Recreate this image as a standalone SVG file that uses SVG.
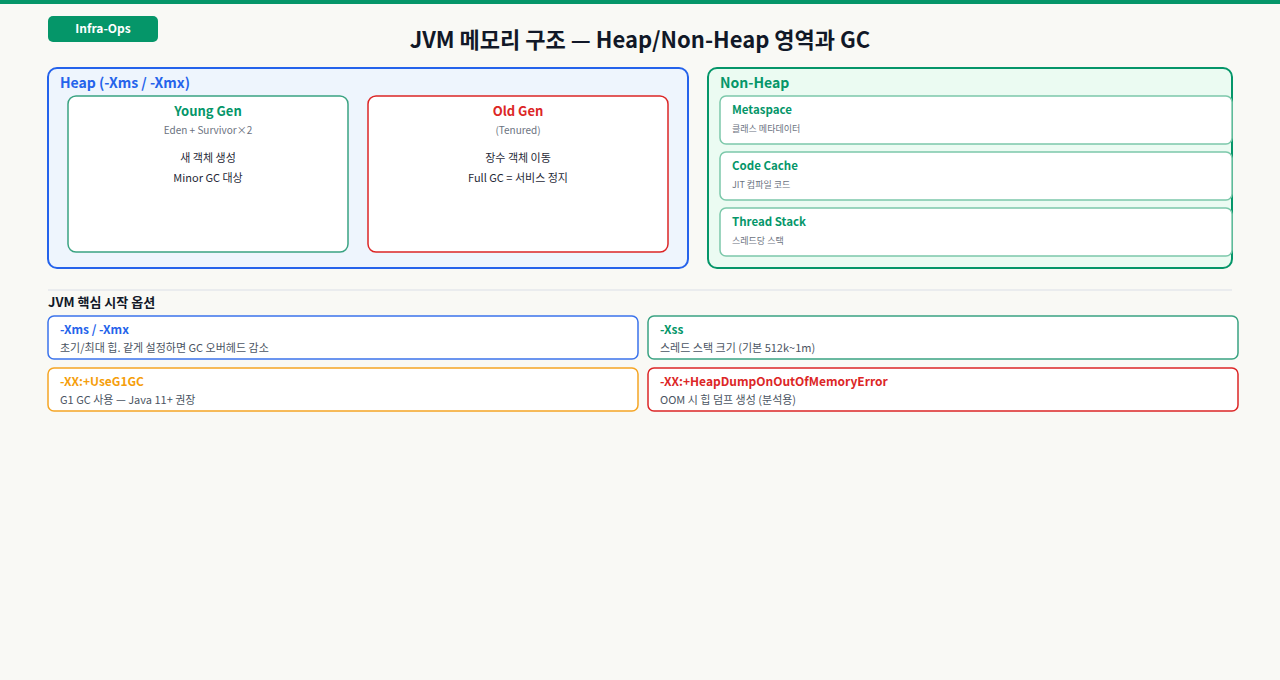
<svg xmlns="http://www.w3.org/2000/svg" width="1280" height="680" viewBox="0 0 1280 680">
<style>
text{font-family:"Noto Sans CJK KR","Noto Sans",sans-serif}
.t{font-size:11px;fill:#1f2937}
.s{font-size:10px;fill:#6b7280}
.h{font-size:13px;font-weight:700}
.o{font-size:12px;font-weight:700}
.d{font-size:11px;fill:#4b5563}
</style>
<rect width="1280" height="680" fill="#f9f9f5"/>
<rect width="1280" height="4" fill="#059669"/>
<g id="badge"><rect x="48" y="16" width="110" height="26" rx="5" fill="#059669"/><text x="103" y="33" text-anchor="middle" font-size="12" font-weight="700" fill="#fff">Infra-Ops</text></g>
<text x="640" y="48" text-anchor="middle" font-size="22" font-weight="700" fill="#111827">JVM 메모리 구조 — Heap/Non-Heap 영역과 GC</text>
<g id="heap"><rect x="48" y="68" width="640" height="200" rx="9" fill="#eef5fd" stroke="#2563eb" stroke-width="2"/><text x="60" y="88" font-size="14" font-weight="700" fill="#2563eb">Heap (-Xms / -Xmx)</text></g>
<g id="young"><rect x="68" y="96" width="280" height="156" rx="8" fill="#fff" stroke="#3aa382" stroke-width="1.5"/>
<text x="208" y="116" text-anchor="middle" class="h" style="fill:#059669">Young Gen</text>
<text x="208" y="134" text-anchor="middle" class="s">Eden + Survivor×2</text>
<text x="208" y="162" text-anchor="middle" class="t">새 객체 생성</text>
<text x="208" y="182" text-anchor="middle" class="t">Minor GC 대상</text></g>
<g id="old"><rect x="368" y="96" width="300" height="156" rx="8" fill="#fff" stroke="#dc2626" stroke-width="1.5"/>
<text x="518" y="116" text-anchor="middle" class="h" style="fill:#dc2626">Old Gen</text>
<text x="518" y="134" text-anchor="middle" class="s">(Tenured)</text>
<text x="518" y="162" text-anchor="middle" class="t">장수 객체 이동</text>
<text x="518" y="182" text-anchor="middle" class="t">Full GC = 서비스 정지</text></g>
<g id="nonheap"><rect x="708" y="68" width="524" height="200" rx="9" fill="#ebfbf2" stroke="#059669" stroke-width="2"/><text x="720" y="88" font-size="14" font-weight="700" fill="#059669">Non-Heap</text></g>
<g id="meta"><rect x="720" y="96" width="512" height="48" rx="6" fill="#fff" stroke="#7cc8aa" stroke-width="1.5"/><text x="732" y="114" font-size="11.5" font-weight="700" fill="#059669">Metaspace</text><text x="732" y="132" font-size="9" fill="#6b7280">클래스 메타데이터</text></g>
<g id="code"><rect x="720" y="152" width="512" height="48" rx="6" fill="#fff" stroke="#7cc8aa" stroke-width="1.5"/><text x="732" y="170" font-size="11.5" font-weight="700" fill="#059669">Code Cache</text><text x="732" y="188" font-size="9" fill="#6b7280">JIT 컴파일 코드</text></g>
<g id="thread"><rect x="720" y="208" width="512" height="48" rx="6" fill="#fff" stroke="#7cc8aa" stroke-width="1.5"/><text x="732" y="226" font-size="11.5" font-weight="700" fill="#059669">Thread Stack</text><text x="732" y="244" font-size="9" fill="#6b7280">스레드당 스택</text></g>
<line x1="48" y1="290" x2="1232" y2="290" stroke="#e5e7eb" stroke-width="1.5"/>
<text x="48" y="307" font-size="13" font-weight="700" fill="#111827">JVM 핵심 시작 옵션</text>
<g id="o1"><rect x="48" y="316" width="590" height="43" rx="6" fill="#fff" stroke="#3b73eb" stroke-width="1.5"/><text x="60" y="334" class="o" fill="#2563eb">-Xms / -Xmx</text><text x="60" y="352" class="d">초기/최대 힙. 같게 설정하면 GC 오버헤드 감소</text></g>
<g id="o2"><rect x="648" y="316" width="590" height="43" rx="6" fill="#fff" stroke="#3aa382" stroke-width="1.5"/><text x="660" y="334" class="o" fill="#059669">-Xss</text><text x="660" y="352" class="d">스레드 스택 크기 (기본 512k~1m)</text></g>
<g id="o3"><rect x="48" y="368" width="590" height="43" rx="6" fill="#fff" stroke="#f5a524" stroke-width="1.5"/><text x="60" y="386" class="o" fill="#f59e0b">-XX:+UseG1GC</text><text x="60" y="404" class="d">G1 GC 사용 — Java 11+ 권장</text></g>
<g id="o4"><rect x="648" y="368" width="590" height="43" rx="6" fill="#fff" stroke="#dc2626" stroke-width="1.5"/><text x="660" y="386" class="o" fill="#dc2626">-XX:+HeapDumpOnOutOfMemoryError</text><text x="660" y="404" class="d">OOM 시 힙 덤프 생성 (분석용)</text></g>
<g id="connectors"/>
</svg>
